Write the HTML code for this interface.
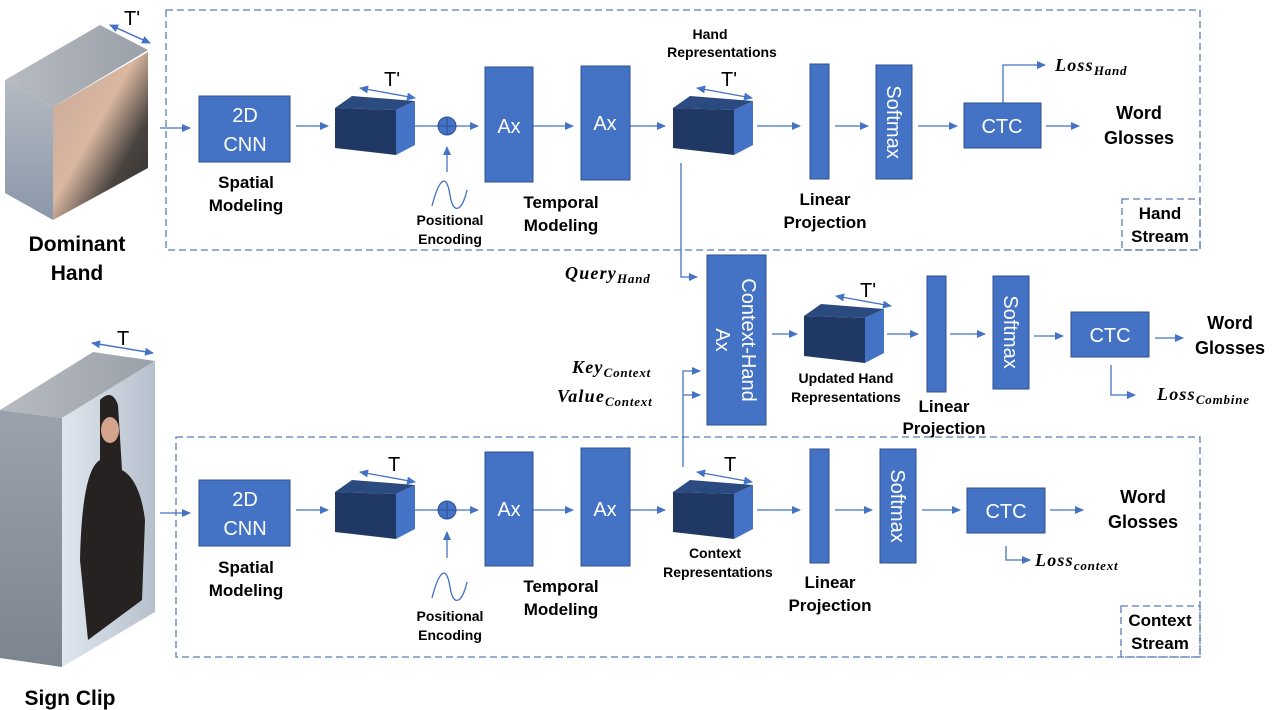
<!DOCTYPE html>
<html><head><meta charset="utf-8"><style>
html,body{margin:0;padding:0;background:#fff;}
svg{display:block;}
.b{font-family:"Liberation Sans",sans-serif;font-weight:bold;fill:#000;}
.w{font-family:"Liberation Sans",sans-serif;fill:#fff;font-size:20px;}
.m{font-family:"Liberation Serif",serif;font-weight:bold;font-style:italic;fill:#000;font-size:18px;letter-spacing:1.2px;}
.s{font-size:13px;letter-spacing:0.8px;}
</style></head><body>
<svg width="1275" height="710" viewBox="0 0 1275 710" xmlns="http://www.w3.org/2000/svg">
<defs>
<marker id="a" markerWidth="10" markerHeight="10" refX="8" refY="4" orient="auto" markerUnits="userSpaceOnUse"><path d="M0,0 L9,4 L0,8 z" fill="#4472C4"/></marker>
<marker id="as" markerWidth="10" markerHeight="10" refX="1" refY="4" orient="auto" markerUnits="userSpaceOnUse"><path d="M9,0 L0,4 L9,8 z" fill="#4472C4"/></marker>
<linearGradient id="gl" x1="0" y1="0" x2="0" y2="1"><stop offset="0" stop-color="#b5bac2"/><stop offset="1" stop-color="#8a98aa"/></linearGradient>
<linearGradient id="gt" x1="0" y1="0" x2="1" y2="0"><stop offset="0" stop-color="#b8bcc2"/><stop offset="1" stop-color="#9aa0a8"/></linearGradient>
<linearGradient id="gf" x1="0" y1="0" x2="1" y2="1"><stop offset="0" stop-color="#c8a89a"/><stop offset="0.45" stop-color="#d9b7a0"/><stop offset="0.7" stop-color="#4a4440"/><stop offset="1" stop-color="#2e2c2c"/></linearGradient>
<linearGradient id="gs" x1="0" y1="0" x2="0" y2="1"><stop offset="0" stop-color="#9aa3ad"/><stop offset="1" stop-color="#7c858e"/></linearGradient>
<linearGradient id="gw" x1="0" y1="0" x2="1" y2="0"><stop offset="0" stop-color="#dfe6ee"/><stop offset="1" stop-color="#b6c0cc"/></linearGradient>
</defs>
<g fill="none" stroke="#5B7DB3" stroke-width="1.3" stroke-dasharray="7,4">
<rect x="166" y="10" width="1034" height="240"/>
<rect x="176" y="437" width="1024" height="220"/>
<rect x="1122" y="199" width="78" height="51"/>
<rect x="1121" y="606" width="79" height="51"/>
</g>
<text class="b" font-size="17" text-anchor="middle" x="1160" y="219">Hand</text>
<text class="b" font-size="17" text-anchor="middle" x="1160" y="242">Stream</text>
<text class="b" font-size="17" text-anchor="middle" x="1160" y="626">Context</text>
<text class="b" font-size="17" text-anchor="middle" x="1160" y="649">Stream</text>

<polygon points="5,80 100,25 148,50 53,107" fill="url(#gt)"/>
<polygon points="5,80 53,107 53,220 5,193" fill="url(#gl)"/>
<polygon points="53,107 148,52 148,168 53,220" fill="url(#gf)"/>
<line x1="110" y1="25" x2="150" y2="43" stroke="#4472C4" stroke-width="1.5" marker-end="url(#a)" marker-start="url(#as)"/>
<text x="124" y="25" font-family="Liberation Sans" font-size="20">T'</text>
<text class="b" font-size="21" text-anchor="middle" x="77" y="251">Dominant</text>
<text class="b" font-size="21" text-anchor="middle" x="77" y="280">Hand</text>

<polygon points="0,410 93,352 155,361 62,418" fill="url(#gt)"/>
<polygon points="0,410 62,418 62,667 0,658" fill="url(#gs)"/>
<polygon points="62,418 155,361 155,612 62,667" fill="url(#gw)"/>
<path d="M100,400 Q112,388 118,405 L122,470 Q140,480 145,520 L142,600 L88,640 L80,560 Q82,470 100,460 Z" fill="#262222"/>
<ellipse cx="110" cy="430" rx="9" ry="13" fill="#d4a58c"/>
<line x1="92" y1="343" x2="153" y2="353" stroke="#4472C4" stroke-width="1.5" marker-end="url(#a)" marker-start="url(#as)"/>
<text x="117" y="345" font-family="Liberation Sans" font-size="20">T</text>
<text class="b" font-size="21" text-anchor="middle" x="70" y="705">Sign Clip</text>

<g stroke="#4472C4" stroke-width="1.3" fill="none">
<line x1="160" y1="128" x2="190" y2="128" marker-end="url(#a)"/>
<line x1="296" y1="126" x2="328" y2="126" marker-end="url(#a)"/>
<line x1="415" y1="126" x2="438" y2="126"/>
<line x1="456" y1="126" x2="478" y2="126" marker-end="url(#a)"/>
<line x1="447" y1="172" x2="447" y2="147" marker-end="url(#a)"/>
<line x1="533" y1="126" x2="573" y2="126" marker-end="url(#a)"/>
<line x1="630" y1="126" x2="665" y2="126" marker-end="url(#a)"/>
<line x1="757" y1="126" x2="800" y2="126" marker-end="url(#a)"/>
<line x1="835" y1="126" x2="868" y2="126" marker-end="url(#a)"/>
<line x1="918" y1="126" x2="957" y2="126" marker-end="url(#a)"/>
<line x1="1046" y1="126" x2="1079" y2="126" marker-end="url(#a)"/>
<polyline points="1003,103 1003,65 1045,65" marker-end="url(#a)"/>
<line x1="360" y1="88" x2="415" y2="98" marker-end="url(#a)" marker-start="url(#as)"/>
<line x1="697" y1="88" x2="752" y2="98" marker-end="url(#a)" marker-start="url(#as)"/>
<path d="M432,206 C440,175 447,175 450,195 C453,215 462,212 467,190"/>
<polyline points="681,163 681,277 697,277" marker-end="url(#a)"/>
<polyline points="683,467 683,371 700,371" marker-end="url(#a)"/>
<line x1="683" y1="395" x2="700" y2="395" marker-end="url(#a)"/>
<line x1="772" y1="334" x2="797" y2="334" marker-end="url(#a)"/>
<line x1="887" y1="334" x2="918" y2="334" marker-end="url(#a)"/>
<line x1="950" y1="334" x2="985" y2="334" marker-end="url(#a)"/>
<line x1="1034" y1="336" x2="1063" y2="336" marker-end="url(#a)"/>
<line x1="1155" y1="338" x2="1183" y2="338" marker-end="url(#a)"/>
<polyline points="1111,365 1111,395 1135,395" marker-end="url(#a)"/>
<line x1="836" y1="296" x2="891" y2="306" marker-end="url(#a)" marker-start="url(#as)"/>
<line x1="160" y1="513" x2="190" y2="513" marker-end="url(#a)"/>
<line x1="296" y1="510" x2="328" y2="510" marker-end="url(#a)"/>
<line x1="415" y1="510" x2="438" y2="510"/>
<line x1="456" y1="510" x2="478" y2="510" marker-end="url(#a)"/>
<line x1="447" y1="558" x2="447" y2="532" marker-end="url(#a)"/>
<line x1="533" y1="510" x2="573" y2="510" marker-end="url(#a)"/>
<line x1="630" y1="510" x2="665" y2="510" marker-end="url(#a)"/>
<line x1="757" y1="510" x2="800" y2="510" marker-end="url(#a)"/>
<line x1="835" y1="510" x2="872" y2="510" marker-end="url(#a)"/>
<line x1="922" y1="510" x2="960" y2="510" marker-end="url(#a)"/>
<line x1="1050" y1="510" x2="1083" y2="510" marker-end="url(#a)"/>
<polyline points="1006,546 1006,560 1030,560" marker-end="url(#a)"/>
<line x1="360" y1="472" x2="415" y2="482" marker-end="url(#a)" marker-start="url(#as)"/>
<line x1="697" y1="472" x2="752" y2="482" marker-end="url(#a)" marker-start="url(#as)"/>
<path d="M432,598 C440,567 447,567 450,587 C453,607 462,604 467,582"/>
</g>

<g fill="#4472C4" stroke="#2F528F" stroke-width="1">
<rect x="199" y="96" width="91" height="66"/>
<rect x="485" y="67" width="48" height="115"/>
<rect x="581" y="66" width="49" height="114"/>
<rect x="810" y="64" width="19" height="115"/>
<rect x="876" y="65" width="36" height="114"/>
<rect x="964" y="103" width="77" height="45"/>
<rect x="707" y="255" width="59" height="170"/>
<rect x="927" y="276" width="19" height="116"/>
<rect x="993" y="276" width="36" height="113"/>
<rect x="1071" y="312" width="78" height="45"/>
<rect x="199" y="480" width="91" height="66"/>
<rect x="485" y="452" width="48" height="114"/>
<rect x="581" y="448" width="49" height="118"/>
<rect x="810" y="449" width="19" height="114"/>
<rect x="880" y="449" width="36" height="114"/>
<rect x="967" y="488" width="78" height="45"/>
<circle cx="447" cy="126" r="9"/>
<circle cx="447" cy="510" r="9"/>
</g>
<g stroke="#2F528F" stroke-width="1"><line x1="438" y1="126" x2="456" y2="126"/><line x1="447" y1="117" x2="447" y2="135"/><line x1="438" y1="510" x2="456" y2="510"/><line x1="447" y1="501" x2="447" y2="519"/></g>

<g id="c">
<polygon points="335,108 352,96 415,101 396,110" fill="#2B4A80"/>
<polygon points="335,108 396,110 396,155 335,148" fill="#203864"/>
<polygon points="396,110 415,101 415,145 396,155" fill="#4472C4"/>
</g>
<use href="#c" transform="translate(338,0)"/>
<use href="#c" transform="translate(469,208)"/>
<use href="#c" transform="translate(0,384)"/>
<use href="#c" transform="translate(338,384)"/>

<text class="w" text-anchor="middle" x="245" y="122">2D</text>
<text class="w" text-anchor="middle" x="245" y="151">CNN</text>
<text class="w" text-anchor="middle" x="245" y="506">2D</text>
<text class="w" text-anchor="middle" x="245" y="535">CNN</text>
<text class="w" text-anchor="middle" x="509" y="133">Ax</text>
<text class="w" text-anchor="middle" x="605" y="130">Ax</text>
<text class="w" text-anchor="middle" x="509" y="516">Ax</text>
<text class="w" text-anchor="middle" x="605" y="516">Ax</text>
<text class="w" text-anchor="middle" x="1002" y="133">CTC</text>
<text class="w" text-anchor="middle" x="1110" y="342">CTC</text>
<text class="w" text-anchor="middle" x="1006" y="518">CTC</text>
<text class="w" text-anchor="middle" transform="translate(887,122) rotate(90)">Softmax</text>
<text class="w" text-anchor="middle" transform="translate(1004,332) rotate(90)">Softmax</text>
<text class="w" text-anchor="middle" transform="translate(891,506) rotate(90)">Softmax</text>
<text class="w" text-anchor="middle" transform="translate(742,340) rotate(90)">Context-Hand</text>
<text class="w" text-anchor="middle" transform="translate(716,340) rotate(90)">Ax</text>

<g font-family="Liberation Sans" font-size="20">
<text x="384" y="86">T'</text><text x="721" y="86">T'</text><text x="860" y="297">T'</text>
<text x="388" y="471">T</text><text x="724" y="471">T</text>
</g>

<g class="b" text-anchor="middle" font-size="17">
<text x="246" y="188">Spatial</text><text x="246" y="211">Modeling</text>
<text x="561" y="208">Temporal</text><text x="561" y="231">Modeling</text>
<text x="825" y="205">Linear</text><text x="825" y="228">Projection</text>
<text x="944" y="412">Linear</text><text x="944" y="434">Projection</text>
<text x="246" y="573">Spatial</text><text x="246" y="596">Modeling</text>
<text x="561" y="592">Temporal</text><text x="561" y="615">Modeling</text>
<text x="830" y="588">Linear</text><text x="830" y="611">Projection</text>
<text x="1139" y="119" font-size="18">Word</text><text x="1139" y="144" font-size="18">Glosses</text>
<text x="1230" y="329" font-size="18">Word</text><text x="1230" y="354" font-size="18">Glosses</text>
<text x="1143" y="503" font-size="18">Word</text><text x="1143" y="528" font-size="18">Glosses</text>
</g>
<g class="b" text-anchor="middle" font-size="14">
<text x="450" y="225">Positional</text><text x="450" y="244">Encoding</text>
<text x="450" y="621">Positional</text><text x="450" y="640">Encoding</text>
<text x="710" y="39">Hand</text><text x="722" y="57">Representations</text>
<text x="846" y="383">Updated Hand</text><text x="846" y="402">Representations</text>
<text x="715" y="558">Context</text><text x="718" y="577">Representations</text>
</g>

<text class="m" x="1055" y="71">Loss<tspan class="s" dy="4">Hand</tspan></text>
<text class="m" x="1157" y="400">Loss<tspan class="s" dy="4">Combine</tspan></text>
<text class="m" x="1035" y="566">Loss<tspan class="s" dy="4">context</tspan></text>
<text class="m" x="565" y="279">Query<tspan class="s" dy="4">Hand</tspan></text>
<text class="m" x="572" y="373">Key<tspan class="s" dy="4">Context</tspan></text>
<text class="m" x="557" y="402">Value<tspan class="s" dy="4">Context</tspan></text>
</svg>
</body></html>
